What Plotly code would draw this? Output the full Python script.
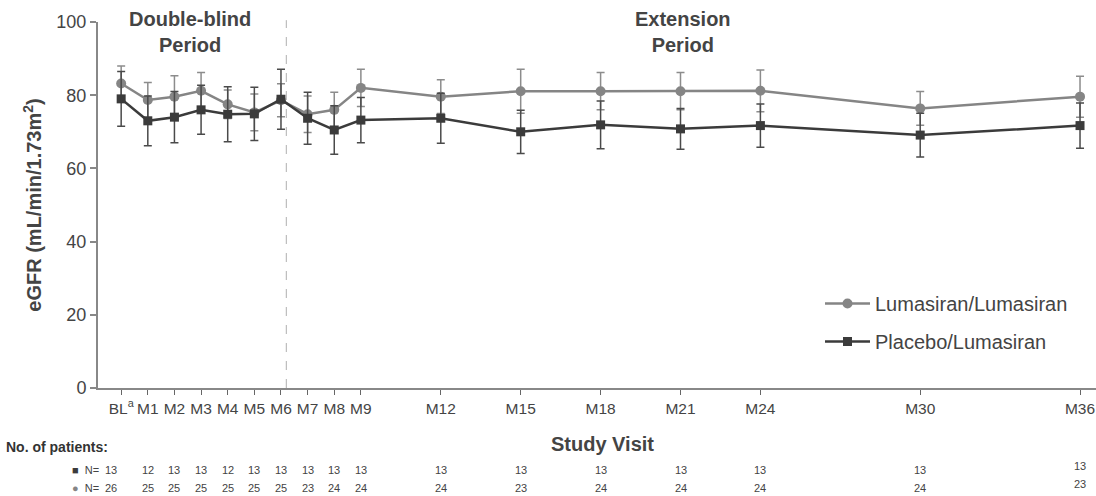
import plotly.graph_objects as go

# Study visits (months since baseline) and their axis labels
visit_month = [0, 1, 2, 3, 4, 5, 6, 7, 8, 9, 12, 15, 18, 21, 24, 30, 36]
visit_label = ["BL<sup>a</sup>", "M1", "M2", "M3", "M4", "M5", "M6", "M7", "M8", "M9",
               "M12", "M15", "M18", "M21", "M24", "M30", "M36"]

# Mean eGFR and error (mL/min/1.73m²)
lum_mean = [83.2, 78.7, 79.6, 81.2, 77.5, 75.3, 78.6, 74.8, 76.0, 82.0,
            79.6, 81.1, 81.1, 81.1, 81.2, 76.4, 79.6]
lum_err = [4.8, 4.8, 5.7, 5.0, 3.9, 5.0, 4.5, 5.0, 4.8, 5.1,
           4.6, 6.0, 5.1, 5.1, 5.7, 4.6, 5.6]
pbo_mean = [79.0, 73.0, 74.0, 76.0, 74.8, 74.9, 78.9, 73.7, 70.5, 73.2,
            73.7, 70.0, 71.9, 70.8, 71.7, 69.1, 71.7]
pbo_err = [7.5, 6.8, 7.0, 6.7, 7.5, 7.3, 8.2, 7.1, 6.6, 6.2,
           6.8, 5.9, 6.5, 5.6, 5.9, 6.0, 6.2]

# Number of patients per visit
pbo_n = [13, 12, 13, 13, 12, 13, 13, 13, 13, 13, 13, 13, 13, 13, 13, 13, 13]
lum_n = [26, 25, 25, 25, 25, 25, 25, 23, 24, 24, 24, 23, 24, 24, 24, 24, 23]

FONT = "Arial, Liberation Sans, sans-serif"
TXT = "#444444"
LUM_C = "#858585"
PBO_C = "#3b3b3b"

W, H = 1096, 496
L, R, T, B = 98, 0, 22, 108
plot_w = W - L - R
plot_h = H - T - B


def paper_y(px):
    return (H - B - px) / plot_h


def paper_x(px):
    return (px - L) / plot_w


fig = go.Figure()

fig.add_trace(go.Scatter(
    x=visit_month, y=lum_mean, name="Lumasiran/Lumasiran", legendgroup="lum",
    mode="lines+markers",
    line=dict(color=LUM_C, width=2.5),
    marker=dict(symbol="circle", size=10, color=LUM_C),
    error_y=dict(type="data", array=lum_err, color="#8c8c8c", thickness=1.5, width=4),
))
fig.add_trace(go.Scatter(
    x=visit_month, y=pbo_mean, name="Placebo/Lumasiran", legendgroup="pbo",
    mode="lines+markers",
    line=dict(color=PBO_C, width=2.5),
    marker=dict(symbol="square", size=9, color=PBO_C),
    error_y=dict(type="data", array=pbo_err, color="#4a4a4a", thickness=1.5, width=4),
))

# Boundary between the double-blind and extension periods
fig.add_shape(type="line", xref="x", yref="paper", x0=6.2, x1=6.2, y0=0, y1=1.005,
              line=dict(color="#b0b0b0", width=1, dash="dash"))


def note(text, x, y, xref="paper", size=11, xanchor="center", yanchor="middle",
         color=TXT, xshift=0, yshift=0):
    return dict(text=text, x=x, xref=xref, y=y, yref="paper", xanchor=xanchor,
                yanchor=yanchor, xshift=xshift, yshift=yshift, showarrow=False,
                font=dict(size=size, color=color, family=FONT))


annotations = [
    note("<b>Double-blind<br>Period</b>", 2.6, paper_y(6), xref="x", size=20, yanchor="top"),
    note("<b>Extension<br>Period</b>", 21.1, paper_y(6), xref="x", size=20, yanchor="top"),
    note("<b>Study Visit</b>", paper_x(602), paper_y(444), size=20),
    note("<b>No. of patients:</b>", paper_x(4), paper_y(447), size=14, xanchor="left",
         color="#333333"),
    note("<span style='color:#3b3b3b'>■</span>  N=", paper_x(70), paper_y(470),
         xanchor="left"),
    note("<span style='color:#858585'>●</span>  N=", paper_x(70), paper_y(488),
         xanchor="left"),
]

for i, m in enumerate(visit_month):
    xs = -10 if i == 0 else 0
    ys = 4 if m == 36 else 0
    annotations.append(note(str(pbo_n[i]), m, paper_y(470), xref="x", xshift=xs, yshift=ys))
    annotations.append(note(str(lum_n[i]), m, paper_y(488), xref="x", xshift=xs, yshift=ys))

fig.update_layout(
    width=W, height=H,
    margin=dict(l=L, r=R, t=T, b=B),
    paper_bgcolor="white", plot_bgcolor="white",
    font=dict(family=FONT, color=TXT),
    showlegend=True,
    legend=dict(x=paper_x(820), y=paper_y(284), xanchor="left", yanchor="top",
                font=dict(size=20, color=TXT, family=FONT), itemwidth=45,
                traceorder="grouped", tracegroupgap=9, bgcolor="rgba(0,0,0,0)"),
    annotations=annotations,
)

fig.update_xaxes(
    range=[-0.87, 36.6], tickvals=visit_month, ticktext=visit_label,
    showline=True, linecolor="#888888", linewidth=2,
    ticks="outside", ticklen=5, tickcolor="#666666", tickwidth=1,
    showgrid=False, zeroline=False,
    tickfont=dict(size=15.5, color=TXT, family=FONT),
)
fig.update_yaxes(
    range=[0, 100], tickvals=[0, 20, 40, 60, 80, 100],
    showline=True, linecolor="#888888", linewidth=2,
    ticks="outside", ticklen=6, tickcolor="#888888", tickwidth=1.5,
    showgrid=False, zeroline=False,
    tickfont=dict(size=18, color=TXT, family=FONT),
    title=dict(text="<b>eGFR (mL/min/1.73m<sup>2</sup>)</b>", standoff=9,
               font=dict(size=20, color=TXT, family=FONT)),
)

fig.write_html("out.html")
